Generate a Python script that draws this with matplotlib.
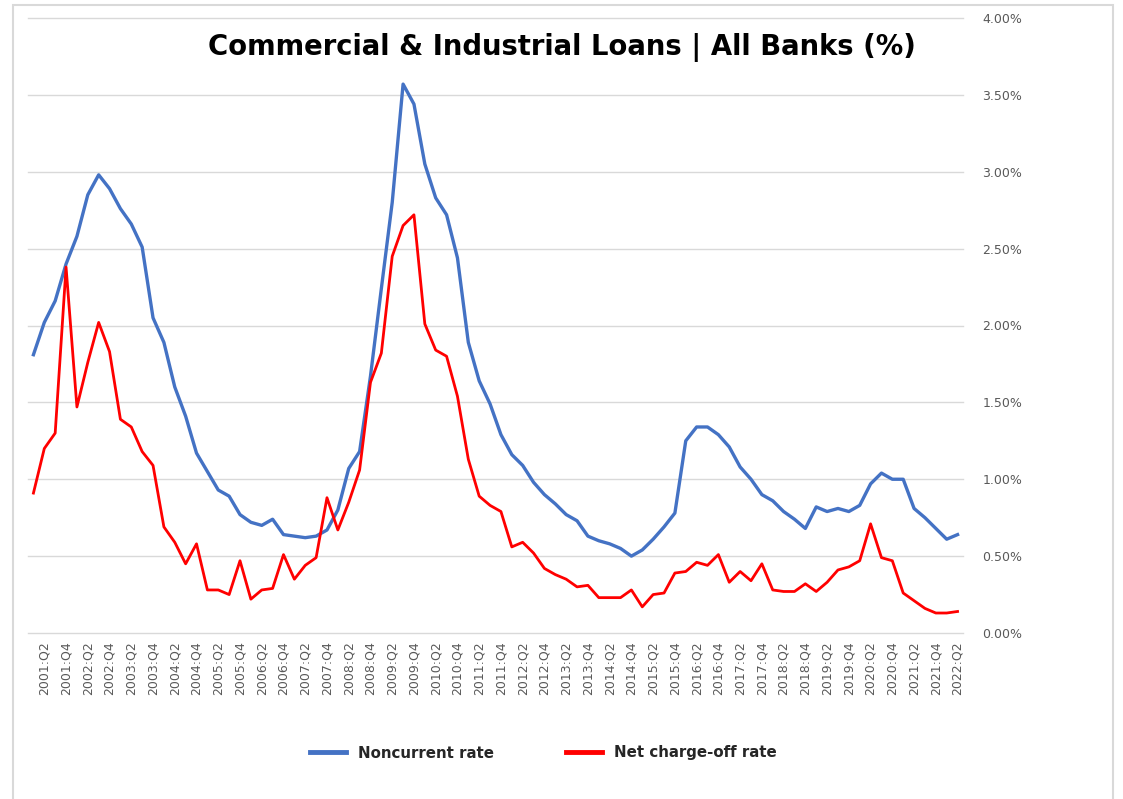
#!/usr/bin/env python3
# ci_loans.py

import numpy as np
import matplotlib.pyplot as plt
from matplotlib.patches import Rectangle
from matplotlib.ticker import PercentFormatter

# quarters 2001:Q1 .. 2022:Q2
quarters = [f"{y}:Q{q}" for y in range(2001, 2023) for q in range(1, 5)][:86]

noncurrent = [
    1.81, 2.02, 2.16, 2.40, 2.58, 2.85, 2.98, 2.89, 2.76, 2.66,
    2.51, 2.05, 1.89, 1.60, 1.41, 1.17, 1.05, 0.93, 0.89, 0.77,
    0.72, 0.70, 0.74, 0.64, 0.63, 0.62, 0.63, 0.67, 0.80, 1.07,
    1.18, 1.67, 2.24, 2.80, 3.57, 3.44, 3.05, 2.83, 2.72, 2.44,
    1.89, 1.64, 1.49, 1.29, 1.16, 1.09, 0.98, 0.90, 0.84, 0.77,
    0.73, 0.63, 0.60, 0.58, 0.55, 0.50, 0.54, 0.61, 0.69, 0.78,
    1.25, 1.34, 1.34, 1.29, 1.21, 1.08, 1.00, 0.90, 0.86, 0.79,
    0.74, 0.68, 0.82, 0.79, 0.81, 0.79, 0.83, 0.97, 1.04, 1.00,
    1.00, 0.81, 0.75, 0.68, 0.61, 0.64,
]

charge_off = [
    0.91, 1.20, 1.30, 2.38, 1.47, 1.76, 2.02, 1.83, 1.39, 1.34,
    1.18, 1.09, 0.69, 0.59, 0.45, 0.58, 0.28, 0.28, 0.25, 0.47,
    0.22, 0.28, 0.29, 0.51, 0.35, 0.44, 0.49, 0.88, 0.67, 0.85,
    1.06, 1.63, 1.82, 2.45, 2.65, 2.72, 2.01, 1.84, 1.80, 1.54,
    1.13, 0.89, 0.83, 0.79, 0.56, 0.59, 0.52, 0.42, 0.38, 0.35,
    0.30, 0.31, 0.23, 0.23, 0.23, 0.28, 0.17, 0.25, 0.26, 0.39,
    0.40, 0.46, 0.44, 0.51, 0.33, 0.40, 0.34, 0.45, 0.28, 0.27,
    0.27, 0.32, 0.27, 0.33, 0.41, 0.43, 0.47, 0.71, 0.49, 0.47,
    0.26, 0.21, 0.16, 0.13, 0.13, 0.14,
]

y_ticks = [0.0, 0.5, 1.0, 1.5, 2.0, 2.5, 3.0, 3.5, 4.0]


def main():
    fig = plt.figure(figsize=(11.23, 7.99), dpi=100)
    fig.patches.append(Rectangle((13 / 1123, -0.05), 1100 / 1123, 1.05 - 5 / 799,
                                 transform=fig.transFigure, fill=False,
                                 edgecolor="#D9D9D9", linewidth=1.5))

    ax = fig.add_axes([28 / 1123, 1 - 633 / 799, 935 / 1123, 615 / 799])
    x = np.arange(len(quarters))
    ax.plot(x, noncurrent, color="#4472C4", linewidth=2.4, label="Noncurrent rate",
            solid_joinstyle="round", zorder=3)
    ax.plot(x, charge_off, color="#FF0000", linewidth=2.0, label="Net charge-off rate",
            solid_joinstyle="round", zorder=3)

    ax.set_xlim(-0.5, len(quarters) - 0.5)
    ax.set_ylim(0, 4.0)
    ax.set_yticks(y_ticks)
    ax.yaxis.set_major_formatter(PercentFormatter(xmax=100, decimals=2))
    ax.yaxis.tick_right()
    ax.grid(axis="y", color="#D9D9D9", linewidth=1.0)
    for gl in ax.get_ygridlines():
        gl.set_clip_on(False)  # keep the 0% and 4% lines whole
    ax.set_axisbelow(True)
    for s in ax.spines.values():
        s.set_visible(False)

    ax.set_xticks(x[1::2])
    ax.set_xticklabels(quarters[1::2], rotation=90)
    ax.tick_params(axis="both", length=0, labelsize=9, labelcolor="#595959")
    ax.tick_params(axis="y", pad=14)
    ax.tick_params(axis="x", pad=6)

    fig.text(562 / 1123, 1 - 48 / 799, "Commercial & Industrial Loans | All Banks (%)",
             ha="center", va="center", fontsize=19.8, fontweight="bold", color="black")

    leg = fig.legend(loc="center", bbox_to_anchor=(543 / 1123, 1 - 753 / 799), ncol=2,
                     frameon=False, handlelength=2.4, columnspacing=4.8,
                     prop={"weight": "bold", "size": 10.8})
    for t in leg.get_texts():
        t.set_color("#262626")
    for h in leg.get_lines():
        h.set_linewidth(3.5)

    fig.savefig("out.png", dpi=100, facecolor="white")


if __name__ == "__main__":
    main()
